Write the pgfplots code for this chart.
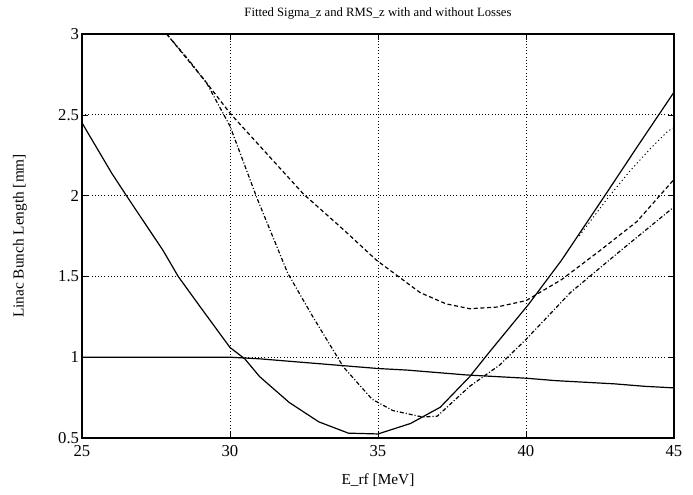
\documentclass[border=0pt]{standalone}
\usepackage{pgfplots}
\pgfplotsset{compat=1.18}
\usepackage{fontspec}
\setmainfont{Liberation Serif}
\begin{document}
\begin{tikzpicture}
\useasboundingbox (-61.5pt,-42pt) rectangle (458.25pt,328.5pt);
\begin{axis}[
  at={(0,0)}, anchor=south west,
  scale only axis,
  width=444pt, height=303pt,
  xmin=25, xmax=45, ymin=0.5, ymax=3,
  xtick={25,30,35,40,45},
  ytick={0.5,1,1.5,2,2.5,3},
  yticklabels={0.5,1,1.5,2,2.5,3},
  grid=major,
  major grid style={black, dotted, line width=0.5pt},
  axis line style={line width=0.9pt},
  tick style={black},
  tick align=inside,
  ticklabel style={font=\fontsize{12.5}{14}\selectfont, inner sep=0.5pt},
  xticklabel style={yshift=-5pt},
  yticklabel style={xshift=-1.5pt},
  /pgf/number format/assume math mode=true,
  title={Fitted Sigma\_z and RMS\_z with and without Losses},
  title style={font=\fontsize{9.5}{11}\selectfont, at={(axis description cs:0.5,1.03)}, anchor=center},
  xlabel={E\_rf [MeV]},
  xlabel style={font=\fontsize{11.5}{13}\selectfont, at={(axis description cs:0.5,-0.104)}, anchor=center},
  ylabel={Linac Bunch Length [mm]},
  ylabel style={font=\fontsize{11.5}{13}\selectfont, at={(axis description cs:-0.105,0.5)}, anchor=center},
  every axis plot/.append style={black, line width=0.9pt, mark=none},
]
% nearly flat solid line
\addplot[solid] coordinates {(25,1.0) (29,1.0) (30,1.0) (31,0.99) (32,0.975) (33,0.96) (34,0.945) (35,0.93) (36,0.92) (37,0.905) (38,0.89) (39,0.88) (40,0.87) (41,0.855) (42,0.845) (43,0.835) (44,0.82) (45,0.81)};
% solid V curve
\addplot[solid] coordinates {(25,2.45) (26,2.14) (26.5,2.0) (27.74,1.66) (28.25,1.5) (29,1.31) (30,1.06) (30.5,0.99) (31,0.88) (32,0.72) (33,0.60) (34,0.53) (35,0.525) (36.1,0.59) (37.1,0.69) (38.1,0.88) (38.8,1.04) (40.1,1.33) (41.2,1.60) (42.7,2.01) (43.75,2.30) (45,2.64)};
% dashed curve
\addplot[dash pattern=on 3pt off 2pt] coordinates {(27.86,3.0) (29.2,2.70) (30,2.51) (31.24,2.26) (32.48,2.01) (33.83,1.79) (34.95,1.60) (36.42,1.40) (37.3,1.33) (38.1,1.30) (39,1.31) (40,1.35) (41.2,1.48) (42.5,1.66) (43.75,1.84) (45,2.10)};
% dash-dot curve
\addplot[dash pattern=on 3pt off 1.5pt on 0.8pt off 1.5pt] coordinates {(27.86,3.0) (28.6,2.84) (29.2,2.70) (30,2.43) (30.9,1.99) (31.95,1.52) (32.8,1.25) (33.83,0.94) (34.8,0.74) (35.5,0.67) (36.5,0.63) (37,0.635) (38.1,0.82) (39.1,0.95) (40,1.11) (41.5,1.40) (43.2,1.66) (45,1.93)};
% dotted curve
\addplot[dotted, line width=0.7pt] coordinates {(41.8,1.75) (42.7,1.97) (43.5,2.15) (44.2,2.29) (44.8,2.40) (45,2.42)};
\end{axis}
\end{tikzpicture}
\end{document}
